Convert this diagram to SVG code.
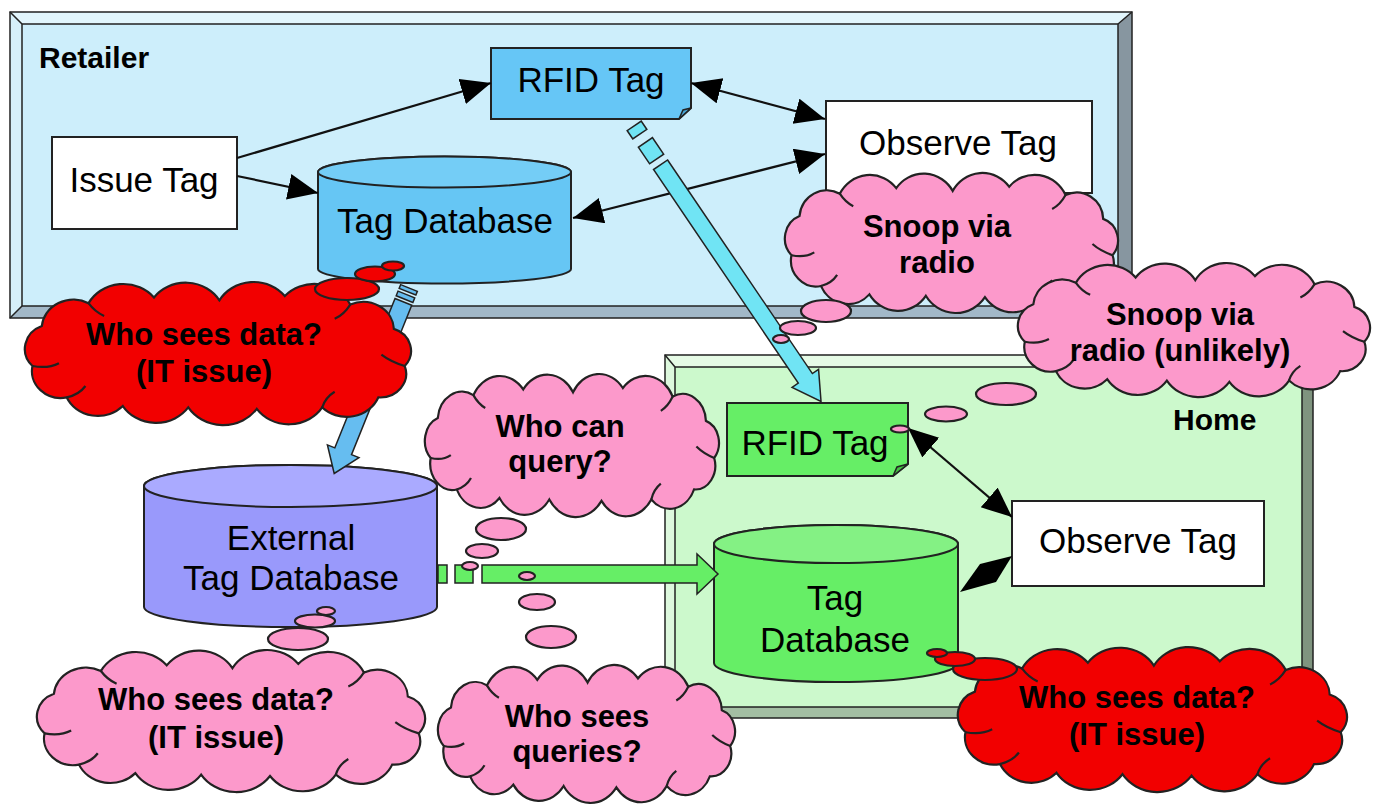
<svg xmlns="http://www.w3.org/2000/svg" xmlns:xlink="http://www.w3.org/1999/xlink" width="1378" height="805" viewBox="0 0 1378 805">
<defs>
<style>
.t{font-family:"Liberation Sans",Arial,sans-serif;font-size:35px;fill:#000;text-anchor:middle}
.b{font-family:"Liberation Sans",Arial,sans-serif;font-weight:bold;font-size:31px;fill:#000;text-anchor:middle}
.lbl{font-family:"Liberation Sans",Arial,sans-serif;font-weight:bold;font-size:30px;fill:#000}
.ln{stroke:#111;stroke-width:2.2;fill:none}
.pink{fill:#fc99cb;stroke:#222;stroke-width:2.2}
.red{fill:#f20000;stroke:#222;stroke-width:2.2}
.box{fill:#fff;stroke:#222;stroke-width:2}
.edge{stroke:#222;stroke-width:1.5}
.blk{stroke:#222;stroke-width:1.5}
</style>
<marker id="ah" markerUnits="userSpaceOnUse" markerWidth="32" markerHeight="28" refX="30" refY="13" orient="auto-start-reverse"><path d="M0,0 L30,13 L0,26 Z" fill="#000"/></marker>
<g id="cloud">
<path vector-effect="non-scaling-stroke" d="M10,60 A17.2,17.2 0 0 1 16,32 A20.4,20.4 0 0 1 46,16 A25.3,25.3 0 0 1 88,12 A25.2,25.2 0 0 1 130,14 A25.3,25.3 0 0 1 172,11 A25.5,25.5 0 0 1 214,17 A19.7,19.7 0 0 1 242,34 A16.2,16.2 0 0 1 249,60 A16.7,16.7 0 0 1 232,82 A22,22 0 0 1 196,89 A25.2,25.2 0 0 1 154,90 A26.4,26.4 0 0 1 110,89 A25.2,25.2 0 0 1 68,88 A21.9,21.9 0 0 1 32,82 A18.7,18.7 0 0 1 10,60 Z"/>
<path vector-effect="non-scaling-stroke" fill="none" d="M10,60 Q20,62 27,58 M249,60 Q240,57 234,52 M196,89 Q198,82 204,78 M214,17 Q210,24 204,27 M32,82 Q40,80 44,74 M46,16 Q50,22 56,25"/>
</g>
</defs>
<rect width="1378" height="805" fill="#fff"/>

<g id="retailer">
<polygon points="10,12 1132,12 1118,24 22,24" fill="#e2f6fd"/>
<polygon points="10,12 22,24 22,306 10,318" fill="#d6f0fa"/>
<polygon points="10,318 22,306 1118,306 1132,318" fill="#a2b8c8"/>
<polygon points="1132,12 1132,318 1118,306 1118,24" fill="#8796a0"/>
<rect x="22" y="24" width="1096" height="282" fill="#cdeefb" class="edge"/>
<rect x="10" y="12" width="1122" height="306" fill="none" class="edge"/>
<path d="M10,12 L22,24 M1132,12 L1118,24 M10,318 L22,306 M1132,318 L1118,306" class="edge"/>
<text class="lbl" x="39" y="68">Retailer</text>
</g>

<g id="home">
<polygon points="665,355 1313,355 1302,367 675,367" fill="#e6fbe6"/>
<polygon points="665,355 675,367 675,707 665,718" fill="#ddf8dd"/>
<polygon points="665,718 675,707 1302,707 1313,718" fill="#a3bea3"/>
<polygon points="1313,355 1313,718 1302,707 1302,367" fill="#7f947f"/>
<rect x="675" y="367" width="627" height="340" fill="#ccf9cc" class="edge"/>
<rect x="665" y="355" width="648" height="363" fill="none" class="edge"/>
<path d="M665,355 L675,367 M1313,355 L1302,367 M665,718 L675,707 M1313,718 L1302,707" class="edge"/>
<text class="lbl" x="1173" y="430">Home</text>
</g>

<g id="issue-tag">
<rect x="52" y="137" width="185" height="92" class="box"/>
<text class="t" x="144" y="192">Issue Tag</text>
</g>

<g id="rfid-tag-retailer">
<path d="M491,48 H691 V108 L679,119 H491 Z" fill="#66c6f6" stroke="#222" stroke-width="2"/>
<path d="M679,119 L683,110 L691,108 Z" fill="#4aa8d8" stroke="#222" stroke-width="1.5"/>
<text class="t" x="591" y="92">RFID Tag</text>
</g>

<g id="observe-tag-retailer">
<rect x="826" y="101" width="266" height="92" class="box"/>
<text class="t" x="958" y="155">Observe Tag</text>
</g>

<g id="tag-db-retailer">
<path d="M318,172 A126.5,15.5 0 0 1 571,172 V269 A126.5,14.5 0 0 1 318,269 Z" fill="#66c6f4" stroke="#222" stroke-width="2"/>
<ellipse cx="444.5" cy="172" rx="126.5" ry="15.5" fill="#74cdf6" stroke="#222" stroke-width="2"/>
<text class="t" x="445" y="233">Tag Database</text>
</g>

<g id="external-db">
<path d="M144,486 A146.5,21 0 0 1 437,486 V607 A146.5,20 0 0 1 144,607 Z" fill="#9999fb" stroke="#222" stroke-width="2"/>
<ellipse cx="290.5" cy="486" rx="146.5" ry="21" fill="#aaaaff" stroke="#222" stroke-width="2"/>
<text class="t" x="291" y="550">External</text>
<text class="t" x="291" y="590">Tag Database</text>
</g>

<g id="rfid-tag-home">
<path d="M727,403 H908 V464 L893,476 H727 Z" fill="#66ee66" stroke="#222" stroke-width="2"/>
<path d="M893,476 L897,467 L908,464 Z" fill="#44c044" stroke="#222" stroke-width="1.5"/>
<text class="t" x="815" y="455">RFID Tag</text>
</g>

<g id="observe-tag-home">
<rect x="1012" y="501" width="252" height="85" class="box"/>
<text class="t" x="1138" y="553">Observe Tag</text>
</g>

<g id="tag-db-home">
<path d="M714,544 A122,19 0 0 1 958,544 V663 A122,19 0 0 1 714,663 Z" fill="#66ee66" stroke="#222" stroke-width="2"/>
<ellipse cx="836" cy="544" rx="122" ry="19" fill="#84f184" stroke="#222" stroke-width="2"/>
<text class="t" x="835" y="610">Tag</text>
<text class="t" x="835" y="652">Database</text>
</g>

<g id="connectors">
<path class="ln" d="M237,158 L491,83" marker-end="url(#ah)"/>
<path class="ln" d="M237,176 L318,193" marker-end="url(#ah)"/>
<path class="ln" d="M691,83 L825,119" marker-start="url(#ah)" marker-end="url(#ah)"/>
<path class="ln" d="M825,154 L573,218" marker-start="url(#ah)" marker-end="url(#ah)"/>
<path class="ln" d="M908,428 L1012,517" marker-start="url(#ah)" marker-end="url(#ah)"/>
<polygon points="1012,556 980,564 960,592 996,582" fill="#000"/>
<g transform="translate(637,130) rotate(55.87)" fill="#70e4f4" class="blk">
<rect x="-5" y="-8.5" width="10" height="17"/>
<rect x="15" y="-8.5" width="20" height="17"/>
<polygon points="42,-8.5 300,-8.5 300,-16 328,0 300,16 300,8.5 42,8.5"/>
</g>
<g transform="translate(409,288) rotate(111.96)" fill="#66bdf0" class="blk">
<rect x="0" y="-9" width="4" height="18"/>
<rect x="7" y="-9" width="5" height="18"/>
<polygon points="15,-9 176,-9 176,-17 200,0 176,17 176,9 15,9"/>
</g>
<g fill="#66ee66" class="blk">
<rect x="438" y="565" width="9" height="18"/>
<rect x="455" y="565" width="18" height="18"/>
<polygon points="482,565 697,565 697,554 718,574 697,594 697,583 482,583"/>
</g>
</g>

<g id="cloud-retailer-data">
<use xlink:href="#cloud" href="#cloud" class="red" transform="translate(16.9,280.3) scale(1.5577,1.4286)"/>
<ellipse class="red" cx="347" cy="289" rx="32" ry="11"/>
<ellipse class="red" cx="375" cy="274" rx="20" ry="7.5"/>
<ellipse class="red" cx="393" cy="266" rx="11" ry="4.5"/>
<text class="b" x="204" y="345">Who sees data?</text>
<text class="b" x="204" y="382">(IT issue)</text>
</g>

<g id="cloud-snoop">
<use xlink:href="#cloud" href="#cloud" class="pink" transform="translate(778,171.3) scale(1.3438,1.3986)"/>
<ellipse class="pink" cx="826" cy="311" rx="25" ry="11"/>
<ellipse class="pink" cx="798" cy="328" rx="18" ry="7"/>
<ellipse class="pink" cx="781" cy="339" rx="8" ry="4"/>
<text class="b" x="937" y="237">Snoop via</text>
<text class="b" x="937" y="273">radio</text>
</g>

<g id="cloud-snoop-unlikely">
<use xlink:href="#cloud" href="#cloud" class="pink" transform="translate(1010.6,261.4) scale(1.4205,1.3387)"/>
<ellipse class="pink" cx="1006" cy="394" rx="30" ry="11"/>
<ellipse class="pink" cx="946" cy="414" rx="21" ry="7.5"/>
<ellipse class="pink" cx="900" cy="429" rx="9" ry="3.5"/>
<text class="b" x="1180" y="325">Snoop via</text>
<text class="b" x="1180" y="361">radio (unlikely)</text>
</g>

<g id="cloud-query">
<use xlink:href="#cloud" href="#cloud" class="pink" transform="translate(418.8,372.3) scale(1.1864,1.4286)"/>
<ellipse class="pink" cx="501" cy="529" rx="25" ry="11"/>
<ellipse class="pink" cx="482" cy="551" rx="16" ry="7"/>
<ellipse class="pink" cx="470" cy="566" rx="8" ry="4"/>
<text class="b" x="560" y="437">Who can</text>
<text class="b" x="560" y="472">query?</text>
</g>

<g id="cloud-queries">
<use xlink:href="#cloud" href="#cloud" class="pink" transform="translate(431.8,663.3) scale(1.1985,1.3786)"/>
<ellipse class="pink" cx="551" cy="637" rx="25" ry="11"/>
<ellipse class="pink" cx="537" cy="602" rx="18" ry="8"/>
<ellipse class="pink" cx="527" cy="576" rx="8" ry="4"/>
<text class="b" x="577" y="727">Who sees</text>
<text class="b" x="577" y="762">queries?</text>
</g>

<g id="cloud-external-data">
<use xlink:href="#cloud" href="#cloud" class="pink" transform="translate(28.9,648.3) scale(1.5658,1.4186)"/>
<ellipse class="pink" cx="298" cy="639" rx="30" ry="11"/>
<ellipse class="pink" cx="315" cy="621" rx="20" ry="6.5"/>
<ellipse class="pink" cx="326" cy="611" rx="9" ry="4"/>
<text class="b" x="216" y="710">Who sees data?</text>
<text class="b" x="216" y="748">(IT issue)</text>
</g>

<g id="cloud-home-data">
<use xlink:href="#cloud" href="#cloud" class="red" transform="translate(949.8,645.3) scale(1.5698,1.4486)"/>
<ellipse class="red" cx="985" cy="669" rx="32" ry="11"/>
<ellipse class="red" cx="955" cy="659" rx="20" ry="7"/>
<ellipse class="red" cx="937" cy="653" rx="10" ry="4"/>
<text class="b" x="1137" y="708">Who sees data?</text>
<text class="b" x="1137" y="745">(IT issue)</text>
</g>
</svg>
